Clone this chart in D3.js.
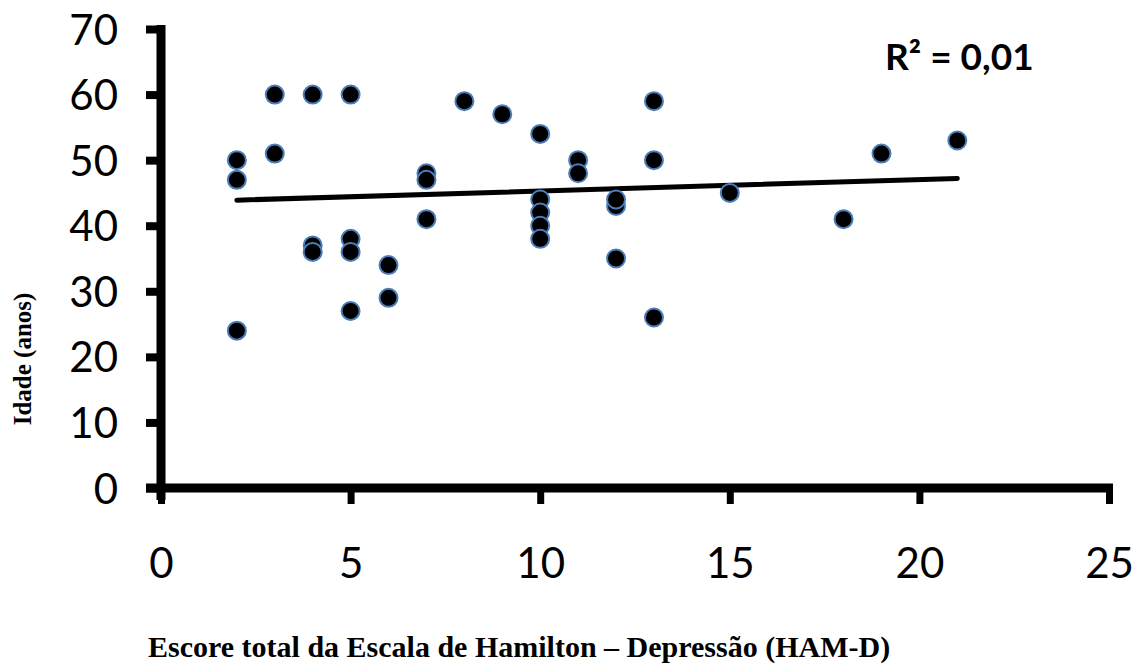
<!DOCTYPE html>
<html>
<head>
<meta charset="utf-8">
<script src="https://cdn.jsdelivr.net/npm/d3@7"></script>
<style>
  body { margin: 0; background: #fff; }
  svg { display: block; }
</style>
</head>
<body>
<div id="chart"></div>
<script>
// values
var hamd  = [2, 2, 2, 3, 3, 4, 4, 4, 5, 5, 5, 5, 6, 6, 7, 7, 7, 8, 9,
             10, 10, 10, 10, 10, 11, 11, 12, 12, 12, 13, 13, 13, 15, 18, 19, 21];
var idade = [50, 47, 24, 60, 51, 60, 37, 36, 60, 38, 36, 27, 34, 29, 48, 47, 41, 59, 57,
             54, 44, 42, 40, 38, 50, 48, 43, 44, 35, 59, 50, 26, 45, 41, 51, 53];

// trend line end points (as drawn in the source)
var trendX = [2, 21];
var trendY = [43.9, 47.2];

var xTicks = [0, 5, 10, 15, 20, 25];
var yTicks = [0, 10, 20, 30, 40, 50, 60, 70];

var width = 1136, height = 666;

var svg = d3.select("#chart")
  .append("svg")
    .attr("width", width)
    .attr("height", height);

var x = d3.scaleLinear()
  .domain([0, 25])
  .range([161, 1109]);

var y = d3.scaleLinear()
  .domain([0, 70])
  .range([488, 29]);

var tickFont = "Lato, 'Open Sans', sans-serif";

// Y axis
var yAxis = svg.append("g")
  .attr("transform", "translate(" + x(0) + ",0)")
  .call(d3.axisLeft(y).tickValues(yTicks).tickSize(15).tickSizeOuter(0).tickPadding(28));
yAxis.select(".domain").remove();
yAxis.append("line")
  .attr("x1", 0).attr("x2", 0)
  .attr("y1", y(70) - 4).attr("y2", y(0) + 12)
  .style("stroke", "#000")
  .style("stroke-width", "9px");
yAxis.selectAll(".tick line")
  .style("stroke", "#000")
  .style("stroke-width", "8px");
yAxis.selectAll(".tick text")
  .attr("fill", "#000")
  .attr("dy", "0.36em")
  .style("font-family", tickFont)
  .style("font-size", "42px");

// X axis
var xAxis = svg.append("g")
  .attr("transform", "translate(0," + y(0) + ")")
  .call(d3.axisBottom(x).tickValues(xTicks).tickSize(16).tickSizeOuter(0));
xAxis.select(".domain").remove();
xAxis.append("line")
  .attr("x1", x(0) - 15).attr("x2", x(25) + 4)
  .attr("y1", 0).attr("y2", 0)
  .style("stroke", "#000")
  .style("stroke-width", "9px");
xAxis.selectAll(".tick line")
  .style("stroke", "#000")
  .style("stroke-width", "7px");
xAxis.selectAll(".tick text")
  .attr("fill", "#000")
  .attr("y", 90)
  .attr("dy", 0)
  .style("font-family", tickFont)
  .style("font-size", "42px");

// trend line
var line = d3.line()
  .x(function(d) { return x(d[0]); })
  .y(function(d) { return y(d[1]); });

svg.append("path")
  .datum(d3.zip(trendX, trendY))
  .attr("d", line)
  .attr("fill", "none")
  .style("stroke", "#000")
  .style("stroke-width", "5px")
  .attr("stroke-linecap", "round");

// points
svg.selectAll("circle.pt")
  .data(d3.zip(hamd, idade))
  .enter()
  .append("circle")
    .attr("class", "pt")
    .attr("cx", function(d) { return x(d[0]); })
    .attr("cy", function(d) { return y(d[1]); })
    .attr("r", 9)
    .attr("fill", "#000")
    .attr("stroke", "#4a7ebb")
    .attr("stroke-width", 2);

// R squared
svg.append("text")
  .attr("x", 885)
  .attr("y", 70)
  .style("font-family", tickFont)
  .style("font-weight", "bold")
  .style("font-size", "37px")
  .text("R² = 0,01");

// axis titles
svg.append("text")
  .attr("x", 148)
  .attr("y", 657)
  .style("font-family", "'Liberation Serif', 'Times New Roman', serif")
  .style("font-weight", "bold")
  .style("font-size", "30px")
  .text("Escore total da Escala de Hamilton – Depressão (HAM-D)");

svg.append("text")
  .attr("transform", "translate(31,359) rotate(-90)")
  .attr("text-anchor", "middle")
  .style("font-family", "'Liberation Serif', 'Times New Roman', serif")
  .style("font-weight", "bold")
  .style("font-size", "25px")
  .text("Idade (anos)");
</script>
</body>
</html>
